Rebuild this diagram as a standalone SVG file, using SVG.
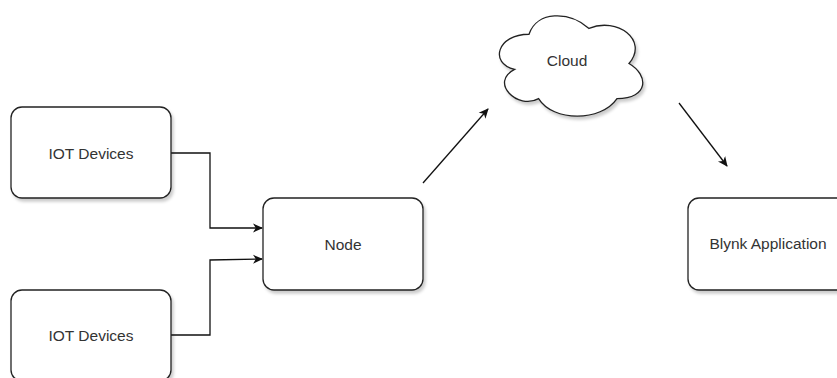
<svg xmlns="http://www.w3.org/2000/svg" width="837" height="378" viewBox="0 0 837 378">
<style>
.box{fill:#fff;stroke:#222;stroke-width:1.3;filter:url(#sh)}
.lbl{font-family:"Liberation Sans",Arial,sans-serif;font-size:15.5px;fill:#333;text-anchor:middle;dominant-baseline:central}
.edge{fill:none;stroke:#111;stroke-width:1.3}
</style>
<defs>
<filter id="sh" x="-10%" y="-10%" width="130%" height="130%">
<feDropShadow dx="2" dy="3" stdDeviation="1.5" flood-color="#000" flood-opacity="0.2"/>
</filter>
<marker id="arr" markerWidth="12" markerHeight="12" refX="9" refY="6" orient="auto" markerUnits="userSpaceOnUse">
<path d="M0,1.5 L10,6 L0,10.5 L2.8,6 Z" fill="#111"/>
</marker>
</defs>
<g id="edges">
<path class="edge" d="M171,153 H210 V228 H262" marker-end="url(#arr)"/>
<path class="edge" d="M171,335 H210 V260 L262,259" marker-end="url(#arr)"/>
<path class="edge" d="M423,183 L488,109" marker-end="url(#arr)"/>
<path class="edge" d="M679,103 L727,166" marker-end="url(#arr)"/>
</g>
<g id="iot1">
<rect class="box" x="11" y="107" width="160" height="91" rx="11"/>
<text class="lbl" x="91" y="153">IOT Devices</text>
</g>
<g id="iot2">
<rect class="box" x="11" y="290" width="160" height="91" rx="11"/>
<text class="lbl" x="91" y="335">IOT Devices</text>
</g>
<g id="node">
<rect class="box" x="263" y="198" width="160" height="92" rx="11"/>
<text class="lbl" x="343" y="244">Node</text>
</g>
<g id="cloud">
<path class="box" d="M529,34.25 C497,34.25 489,63.5 514.6,69.35 C489,82.22 517.8,110.3 538.6,98.6 C553,122 601,122 617,98.6 C649,98.6 649,75.2 629,63.5 C649,40.1 617,16.7 589,28.4 C569,10.85 537,10.85 529,34.25 Z"/>
<text class="lbl" x="567" y="60">Cloud</text>
</g>
<g id="blynk">
<rect class="box" x="688" y="198" width="160" height="92" rx="11"/>
<text class="lbl" x="768" y="243">Blynk Application</text>
</g>
</svg>
